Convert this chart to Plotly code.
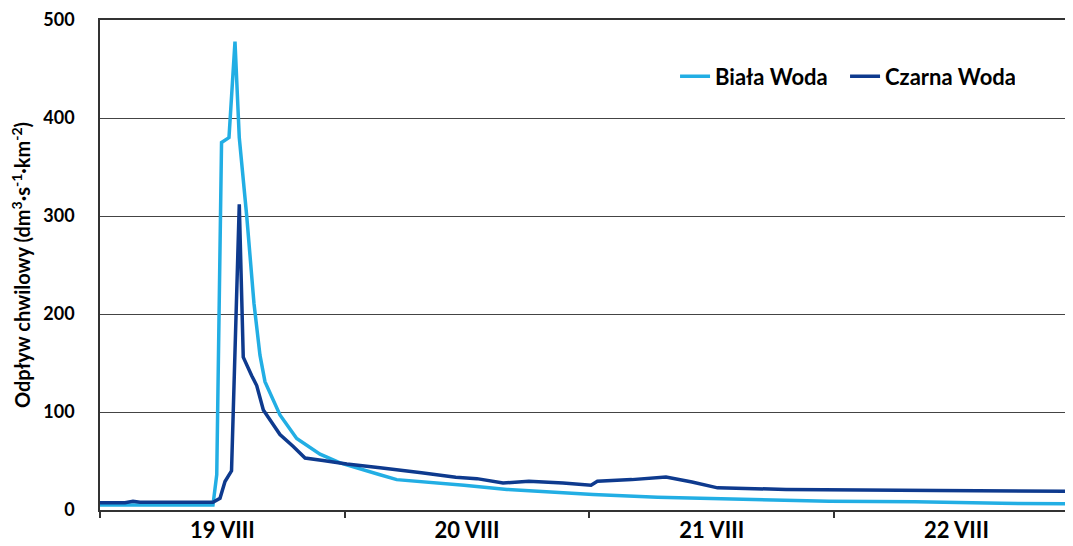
import plotly.graph_objects as go

# hours since 19 VIII 00:00
biala_h = [0, 11.08, 11.45, 11.92, 12.65, 13.24, 13.66, 14.39, 15.10, 15.69, 16.18, 17.65,
           19.29, 21.58, 23.54, 26.16, 27.46, 29.10, 32.37, 35.70, 39.92, 44.14, 48.36,
           54.68, 63.07, 71.50, 79.93, 88.37, 95.43]
biala_v = [5, 5, 36, 375, 380, 478, 380, 300, 211, 158, 131, 97,
           73, 57, 48, 39.5, 36, 31, 28.5, 25.3, 21, 18, 15.8,
           13, 10.8, 9, 8.4, 6.8, 6.4]

czarna_h = [0, 2.45, 3.24, 3.92, 11.08, 11.77, 12.26, 12.65, 12.90, 13.66, 14.05, 14.88,
            15.37, 16.02, 17.65, 18.93, 20.11, 21.87, 24.21, 27.46, 29.42, 31.53, 34.89,
            36.97, 39.53, 42.06, 45.41, 48.16, 48.78, 52.16, 55.51, 58.06, 60.57, 63.07,
            67.28, 82.04, 91.70, 95.43]
czarna_v = [7.5, 7.5, 9, 8, 8, 12, 29, 36, 40, 312, 156, 137,
            127, 102, 77, 65, 53, 50.6, 47, 43, 41, 38, 33.4,
            32, 27.6, 29.3, 27.6, 25.3, 29.3, 31, 33.7, 28.6, 22.6, 22,
            21, 20, 19, 19]

day_labels = ["19 VIII", "20 VIII", "21 VIII", "22 VIII"]
day_centers = [12, 36, 60, 84]

FONT = "Lato"

fig = go.Figure()
fig.add_trace(go.Scatter(x=biala_h, y=biala_v, mode="lines", name="Biała Woda",
                         line=dict(color="#22AEE4", width=3.5)))
fig.add_trace(go.Scatter(x=czarna_h, y=czarna_v, mode="lines", name="Czarna Woda",
                         line=dict(color="#0E3A8E", width=3.5)))

fig.update_layout(
    width=1073, height=546,
    margin=dict(l=92, r=8, t=12, b=44, autoexpand=False),
    plot_bgcolor="white", paper_bgcolor="white",
    font=dict(family=FONT, size=16, color="black"),
    showlegend=True,
    legend=dict(orientation="h", x=0.591, y=0.885, xanchor="left", yanchor="middle",
                font=dict(family=FONT, size=22, color="black", weight="bold"),
                bgcolor="rgba(0,0,0,0)", itemwidth=30, tracegroupgap=0,
                entrywidth=125, entrywidthmode="pixels"),
)
fig.update_xaxes(
    range=[0, 95.43], automargin=False,
    tickvals=day_centers, ticktext=day_labels,
    ticks="", showgrid=False, mirror=True,
    showline=True, linecolor="#333333", linewidth=2,
    tickfont=dict(family=FONT, size=22, color="black", weight="bold"),
    minor=dict(tick0=0, dtick=24, ticks="outside", ticklen=6, tickcolor="#333333", tickwidth=1.5, showgrid=False),
    zeroline=False,
)
fig.update_yaxes(
    range=[0, 500], dtick=100, automargin=False,
    showgrid=True, gridcolor="#444444", gridwidth=1,
    showline=True, linecolor="#333333", linewidth=1.5,
    ticks="", ticklabelstandoff=20, ticklabeloverflow="allow",
    tickfont=dict(family=FONT, size=18, color="black", weight="bold"),
    title=dict(text="Odpływ chwilowy (dm<sup>3</sup>·s<sup>-1</sup>·km<sup>-2</sup>)",
               font=dict(family=FONT, size=20, color="black", weight="bold"), standoff=12),
    zeroline=False,
)

fig.write_html("out.html")
